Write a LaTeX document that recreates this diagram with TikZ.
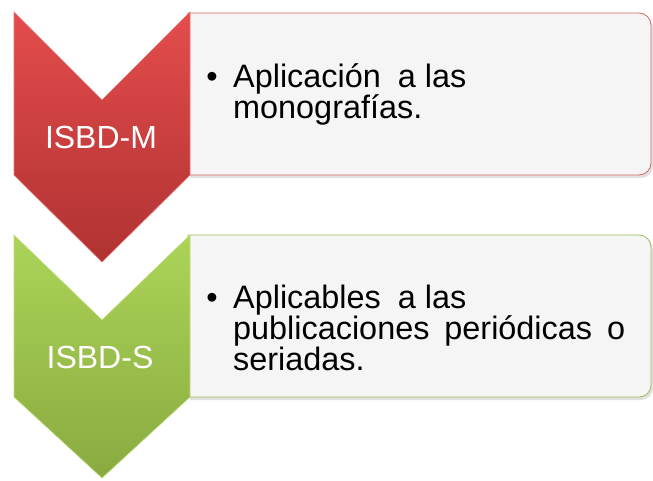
\documentclass[tikz,border=0pt]{standalone}
\usepackage{fontspec}
\setmainfont{Liberation Sans}
\definecolor{redtop}{RGB}{228,76,76}
\definecolor{redbot}{RGB}{176,50,50}
\definecolor{redline}{RGB}{214,100,100}
\definecolor{grntop}{RGB}{172,212,88}
\definecolor{grnbot}{RGB}{138,170,64}
\definecolor{grnline}{RGB}{150,190,84}
\definecolor{boxfill}{RGB}{245,245,245}
\begin{document}
\begin{tikzpicture}[x=1pt,y=-1pt,
  chevred/.style={top color=redtop, bottom color=redbot, draw=redtop!80!white, line width=0.6pt},
  chevgrn/.style={top color=grntop, bottom color=grnbot, draw=grntop!80!white, line width=0.6pt},
  boxred/.style={fill=boxfill, draw=redline, line width=0.8pt},
  boxgrn/.style={fill=boxfill, draw=grnline, line width=0.8pt},
  boxshadow/.style={fill=black, opacity=0.12},
  lbl/.style={text=white, font=\fontsize{32}{32}\selectfont, inner sep=0pt, anchor=base},
  txt/.style={text=black, font=\fontsize{32.4}{30}\selectfont, inner sep=0pt, anchor=base west},
  bul/.style={text=black, font=\fontsize{32.4}{30}\selectfont, inner sep=0pt, anchor=base}
]
\useasboundingbox (0,0) rectangle (653,480);
% boxes with shadows
\path[boxshadow] (190,16) [rounded corners=12pt] -- (653,16) -- (653,178) [sharp corners] -- (190,178) -- cycle;
\draw[boxred] (188,13) [rounded corners=12pt] -- (651,13) -- (651,175) [sharp corners] -- (188,175) -- cycle;
\path[boxshadow] (190,238) [rounded corners=12pt] -- (653,238) -- (653,400) [sharp corners] -- (190,400) -- cycle;
\draw[boxgrn] (188,235) [rounded corners=12pt] -- (651,235) -- (651,397) [sharp corners] -- (188,397) -- cycle;
% chevrons
\draw[chevred] (14,12) -- (102,100) -- (190,12) -- (190,175) -- (102,262) -- (14,175) -- cycle;
\draw[chevgrn] (14,235) -- (102,320) -- (190,235) -- (190,397) -- (102,478) -- (14,397) -- cycle;
% labels
\node[lbl] (m) at (101,148) {ISBD-M};
\node[lbl] (s) at (100,368) {ISBD-S};
% texts
\node[bul] (b1) at (212,87) {•};
\node[txt] (t1) at (233,87) {\parbox[t]{410pt}{Aplicación\hspace{8pt} a las\\monografías.}};
\node[bul] (b2) at (212,308) {•};
\node[txt] (t2) at (233,308) {\parbox[t]{410pt}{Aplicables\hspace{8pt} a las\\\makebox[392pt][s]{publicaciones periódicas o}\\seriadas.}};
\end{tikzpicture}
\end{document}
